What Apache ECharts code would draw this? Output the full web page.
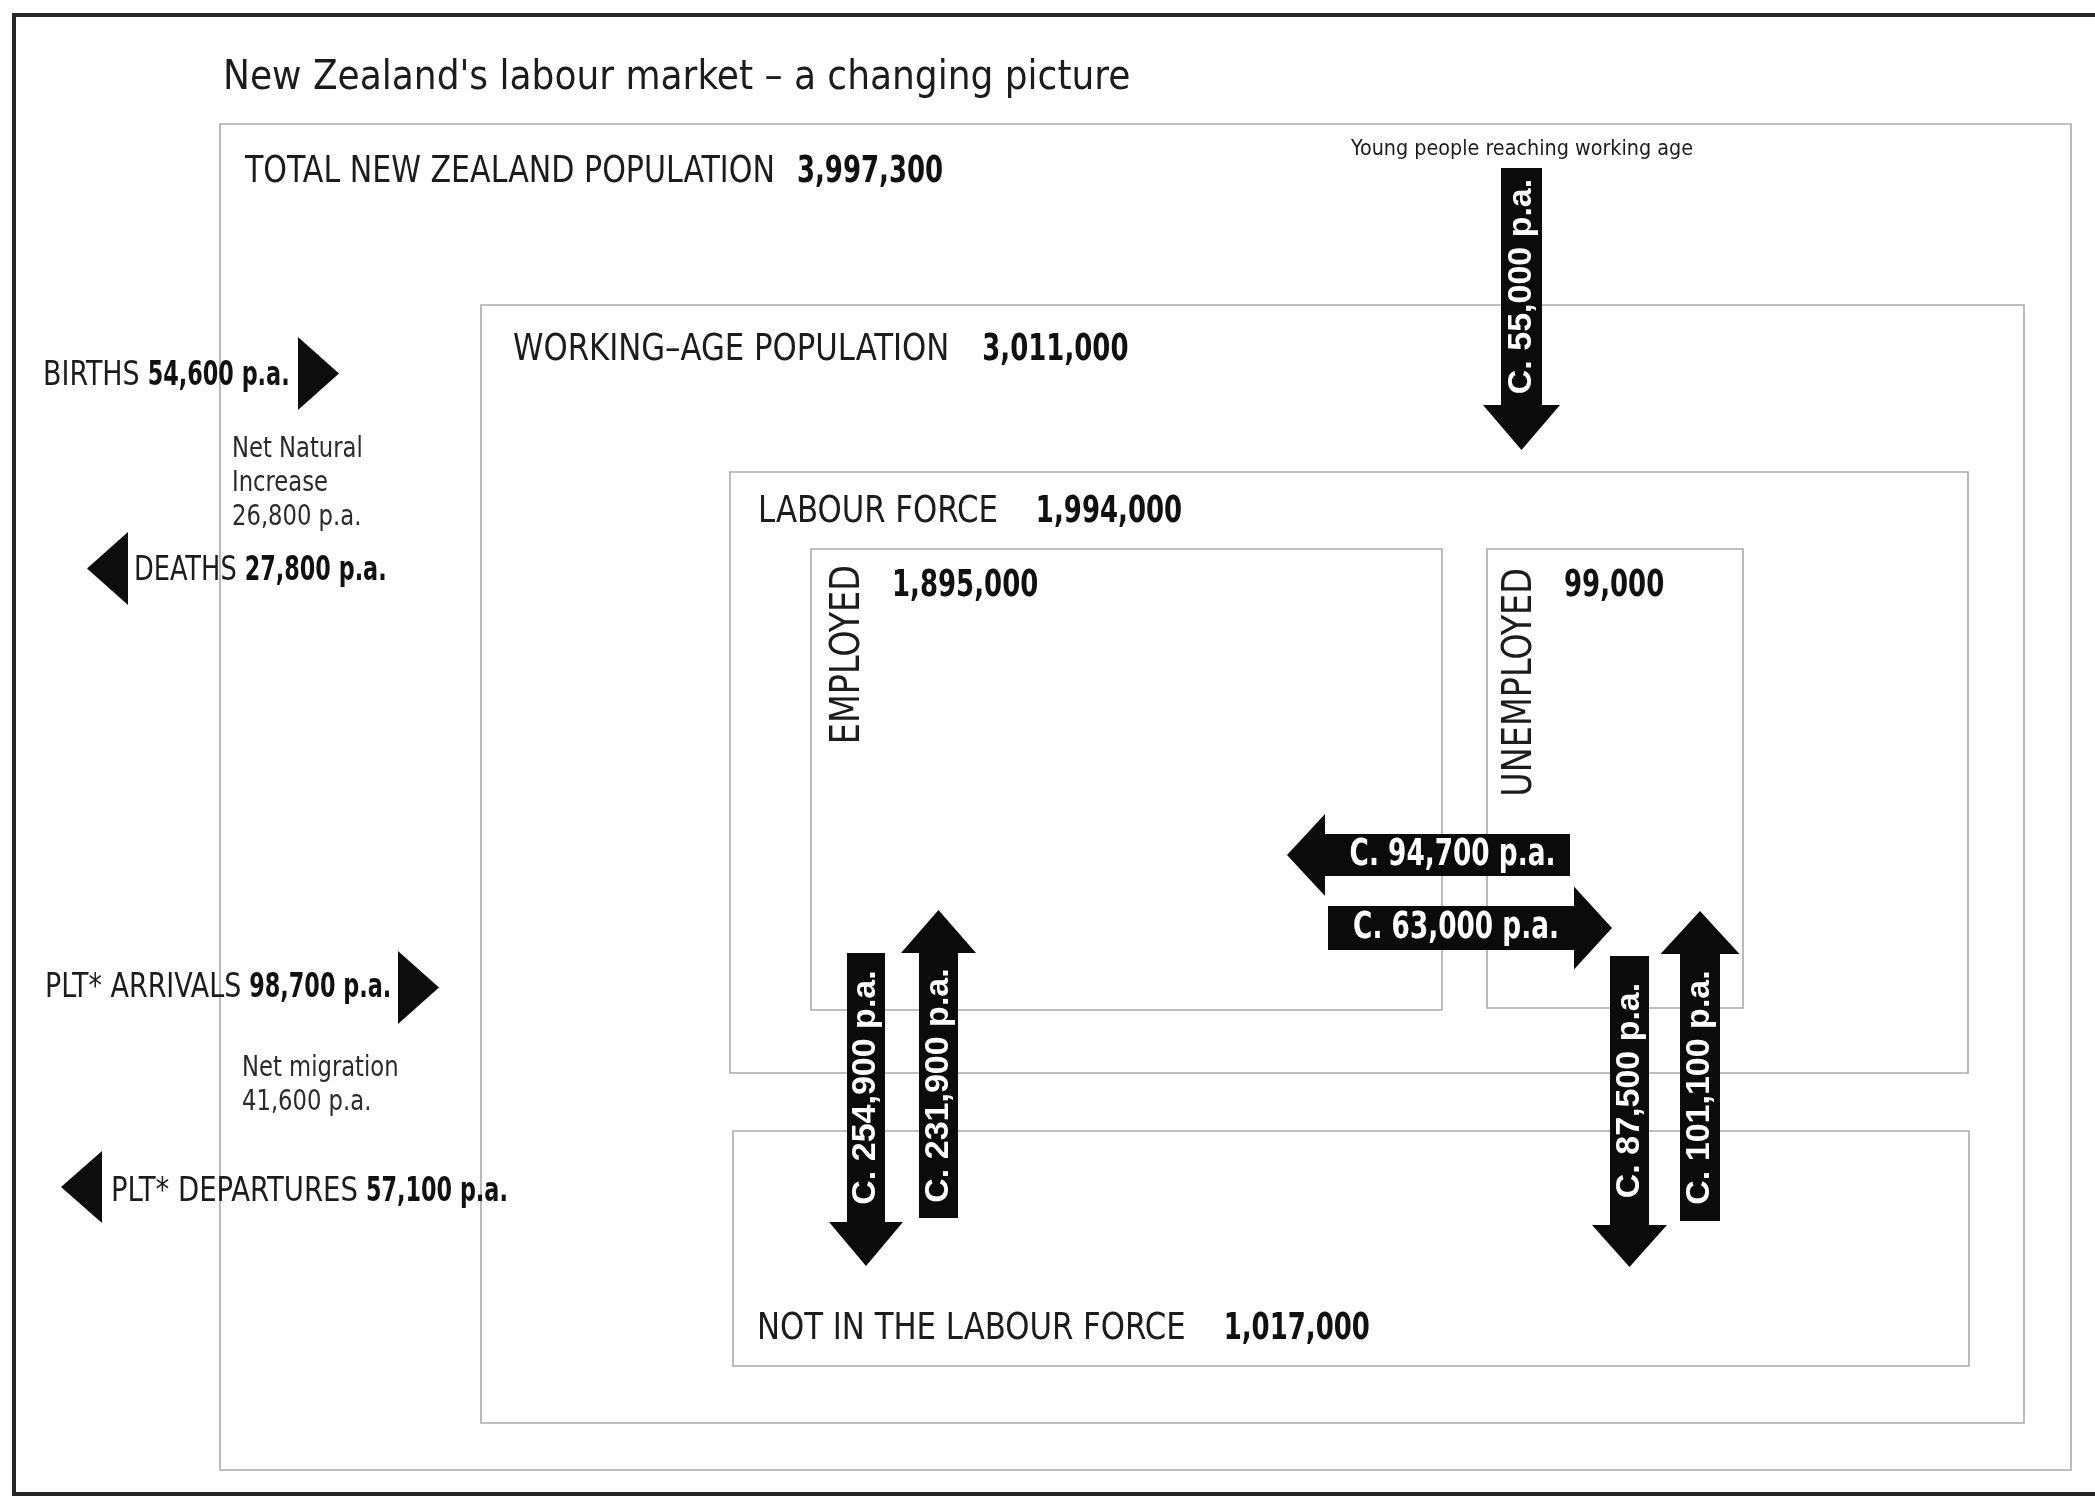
<!DOCTYPE html>
<html>
<head>
<meta charset="utf-8">
<title>New Zealand's labour market</title>
<script src="https://cdn.jsdelivr.net/npm/echarts@6/dist/echarts.min.js"></script>
<style>
  html, body { margin: 0; padding: 0; background: #fff; }
  #main { width: 2095px; height: 1496px; }
</style>
</head>
<body>
<div id="main"></div>
<script>
// ---- values ----
var chartTitle = "New Zealand's labour market \u2013 a changing picture";
var stockNames = ["TOTAL NEW ZEALAND POPULATION", "WORKING\u2013AGE POPULATION", "LABOUR FORCE", "NOT IN THE LABOUR FORCE", "EMPLOYED", "UNEMPLOYED"];
var stockValues = [3997300, 3011000, 1994000, 1017000, 1895000, 99000];
var sideNames = ["BIRTHS", "DEATHS", "PLT* ARRIVALS", "PLT* DEPARTURES"];
var sideValues = [54600, 27800, 98700, 57100];
var netNames = ["Net Natural\nIncrease", "Net migration"];
var netValues = [26800, 41600];
var flowValues = [55000, 254900, 231900, 94700, 63000, 87500, 101100];
var youngNote = "Young people reaching working age";

// ---- layout (page pixels) ----
var frameLine = [[2095, 15], [14, 15], [14, 1494], [2095, 1494]];
// x0, y0, x1, y1
var boxRects = [
  [220, 124, 2071, 1470],
  [481, 305, 2024, 1423],
  [730, 472, 1968, 1073],
  [733, 1131, 1969, 1366],
  [811, 549, 1442, 1010],
  [1487, 549, 1743, 1008]
];
// label x, y (cap centre), gap before the number, squeeze of the name
var stockLabelPos = [[245, 172, 22, 0.88], [513, 350, 33, 0.9], [758, 512, 38, 0.9], [757, 1329, 38, 0.9]];
var subNamePos = [[849, 565], [1521, 568]];   // rotated names, top end
var subValuePos = [[892, 586], [1564, 586]];
// tailX, tailY, tipX, tipY, shaft width, head width, head length
var flowArrows = [
  [1521.5, 168, 1521.5, 450, 41, 77, 45],
  [866, 953, 866, 1266, 38, 74, 44],
  [938.5, 1218, 938.5, 910, 39, 75, 43],
  [1570, 855, 1287, 855, 42, 82, 38],
  [1328, 928, 1612, 928, 44, 83, 38],
  [1629.5, 956, 1629.5, 1267, 39, 75, 42],
  [1700, 1221, 1700, 911, 40, 79, 43]
];
var sideArrows = [
  [298, 373.5, 339, 373.5, 0, 73, 41],
  [128, 568.5, 87, 568.5, 0, 73, 41],
  [398, 987.5, 439, 987.5, 0, 73, 41],
  [102, 1187, 61, 1187, 0, 72, 41]
];
var sideLabelPos = [[43, 376, 0.88], [134, 571, 0.84], [45, 988, 0.88], [111, 1192, 0.9]];
var netPos = [[232, 432], [242, 1051]];
var youngPos = [1351, 149];
var titlePos = [223, 79];

var COND = '"Liberation Sans Narrow", "Arial Narrow", "DejaVu Sans Condensed", sans-serif';
var WIDE = '"Liberation Sans", Arial, sans-serif';
var INK = '#1c1c1c';
var NUM_SX = 0.76;

var measureCtx = document.createElement('canvas').getContext('2d');
function textWidth(s, size, weight, family) {
  measureCtx.font = (weight || 'normal') + ' ' + size + 'px ' + (family || COND);
  return measureCtx.measureText(s).width;
}

function fmt(n) { return n.toLocaleString('en-US'); }

function arrowPoints(a) {
  var dx = a[2] - a[0], dy = a[3] - a[1];
  var len = Math.sqrt(dx * dx + dy * dy);
  var ux = dx / len, uy = dy / len, nx = -uy, ny = ux;
  var bx = a[2] - ux * a[6], by = a[3] - uy * a[6];
  var s = a[4] / 2, h = a[5] / 2;
  return [
    [a[0] + nx * s, a[1] + ny * s], [bx + nx * s, by + ny * s], [bx + nx * h, by + ny * h],
    [a[2], a[3]],
    [bx - nx * h, by - ny * h], [bx - nx * s, by - ny * s], [a[0] - nx * s, a[1] - ny * s]
  ];
}

function txt(x, y, text, font, opts) {
  opts = opts || {};
  var st = {
    text: text,
    fill: opts.fill || INK,
    fontFamily: font,
    fontSize: opts.size,
    fontWeight: opts.weight || 'normal',
    align: opts.align || 'left', textAlign: opts.align || 'left',
    verticalAlign: opts.va || 'middle', textVerticalAlign: opts.va || 'middle'
  };
  if (opts.lineHeight) st.lineHeight = opts.lineHeight;
  return {
    type: 'text', x: x, y: y,
    rotation: opts.rotation || 0,
    scaleX: opts.sx || 1,
    style: st
  };
}

// name in regular, number in bold, both squeezed to the condensed look
function nameAndNumber(x, y, name, num, size, gap, nameSx, numSx) {
  var w = textWidth(name, size) * nameSx;
  return [
    txt(x, y, name, COND, { size: size, sx: nameSx }),
    txt(x + w + gap, y, num, COND, { size: size, weight: 'bold', fill: '#111', sx: numSx })
  ];
}

var myChart = echarts.init(document.getElementById('main'), null, { renderer: 'canvas' });

var option = {
  animation: false,
  backgroundColor: '#fff',
  grid: { left: 0, right: 0, top: 0, bottom: 0 },
  xAxis: { type: 'value', min: 0, max: 2095, show: false },
  yAxis: { type: 'value', min: 0, max: 1496, inverse: true, show: false },
  series: [
    {
      // frame + nested boxes
      type: 'custom',
      data: boxRects.map(function (r, i) { return [i, 0]; }),
      renderItem: function (params, api) {
        var r = boxRects[params.dataIndex];
        var p0 = api.coord([r[0], r[1]]), p1 = api.coord([r[2], r[3]]);
        var children = [{
          type: 'rect',
          shape: { x: p0[0], y: p0[1], width: p1[0] - p0[0], height: p1[1] - p0[1] },
          style: { fill: 'none', stroke: '#ababab', lineWidth: 1.6 }
        }];
        if (params.dataIndex === 0) {
          children.push({
            type: 'polyline',
            shape: { points: frameLine.map(function (p) { return api.coord(p); }) },
            style: { fill: 'none', stroke: '#262626', lineWidth: 4 }
          });
          var t = api.coord(titlePos), y = api.coord(youngPos);
          children.push(txt(t[0], t[1], chartTitle, COND, { size: 40 }));
          children.push(txt(y[0], y[1], youngNote, COND, { size: 22, sx: 0.97 }));
        }
        return { type: 'group', children: children };
      }
    },
    {
      // stock labels
      type: 'custom',
      data: stockValues.map(function (v, i) { return [i, v]; }),
      renderItem: function (params, api) {
        var i = params.dataIndex;
        var name = stockNames[i], val = fmt(api.value(1));
        if (i < 4) {
          var L = stockLabelPos[i];
          var p = api.coord([L[0], L[1]]);
          return { type: 'group', children: nameAndNumber(p[0], p[1], name, val, 38, L[2], L[3], NUM_SX) };
        }
        var k = i - 4;
        var pn = api.coord(subNamePos[k]), pv = api.coord(subValuePos[k]);
        return {
          type: 'group',
          children: [
            txt(pn[0], pn[1], name, COND, { size: 40, rotation: Math.PI / 2, align: 'right', sx: 0.93 }),
            txt(pv[0], pv[1], val, COND, { size: 38, weight: 'bold', fill: '#111', sx: NUM_SX })
          ]
        };
      }
    },
    {
      // births / deaths / migration
      type: 'custom',
      data: sideValues.map(function (v, i) { return [i, v]; }),
      renderItem: function (params, api) {
        var i = params.dataIndex;
        var pts = arrowPoints(sideArrows[i]).map(function (p) { return api.coord(p); });
        var L = sideLabelPos[i];
        var p = api.coord([L[0], L[1]]);
        var children = [{ type: 'polygon', shape: { points: pts }, style: { fill: '#0d0d0d' } }]
          .concat(nameAndNumber(p[0], p[1], sideNames[i], fmt(api.value(1)) + ' p.a.', 34, 8, L[2], 0.73));
        if (i === 0 || i === 2) {
          var k = i / 2;
          var q = api.coord(netPos[k]);
          children.push(txt(q[0], q[1], netNames[k] + '\n' + fmt(netValues[k]) + ' p.a.', COND,
            { size: 29, va: 'top', lineHeight: 34, fill: '#2a2a2a', sx: 0.87 }));
        }
        return { type: 'group', children: children };
      }
    },
    {
      // labour market flows
      type: 'custom',
      data: flowValues.map(function (v, i) { return [i, v]; }),
      renderItem: function (params, api) {
        var a = flowArrows[params.dataIndex];
        var pts = arrowPoints(a).map(function (p) { return api.coord(p); });
        var vertical = a[0] === a[2];
        var dx = a[2] - a[0], dy = a[3] - a[1];
        var len = Math.sqrt(dx * dx + dy * dy);
        var bx = a[2] - dx / len * a[6], by = a[3] - dy / len * a[6];
        var mid = api.coord([(a[0] + bx) / 2, (a[1] + by) / 2]);
        var label = 'C. ' + fmt(api.value(1)) + ' p.a.';
        return {
          type: 'group',
          children: [
            { type: 'polygon', shape: { points: pts }, style: { fill: '#0b0b0b' } },
            vertical
              ? txt(mid[0], mid[1], label, WIDE, { size: 34, weight: 'bold', fill: '#fff', align: 'center', rotation: Math.PI / 2 })
              : txt(mid[0] + 5, mid[1], label, COND, { size: 38, weight: 'bold', fill: '#fff', align: 'center', sx: 0.77 })
          ]
        };
      }
    }
  ]
};

option && myChart.setOption(option);
</script>
</body>
</html>
